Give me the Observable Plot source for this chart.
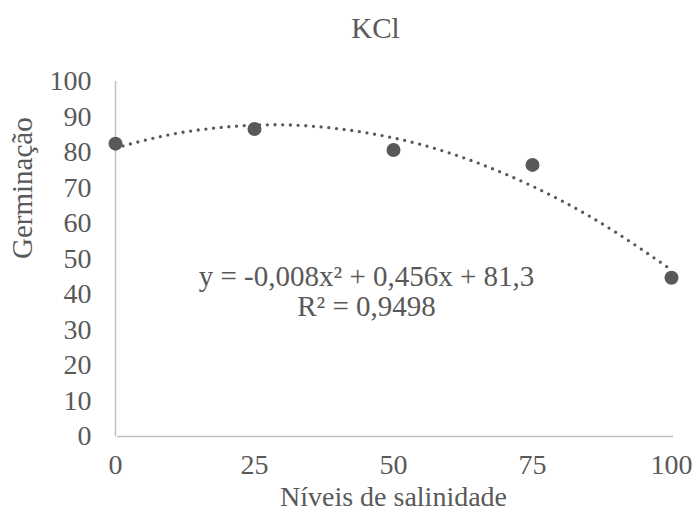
<!DOCTYPE html>
<html>
<head>
<meta charset="utf-8">
<script src="https://cdn.jsdelivr.net/npm/d3@7"></script>
<script src="https://cdn.jsdelivr.net/npm/@observablehq/plot@0.6"></script>
<style>
  html, body { margin: 0; padding: 0; background: #fff; }
</style>
</head>
<body>
<div id="chart"></div>
<script>
// Data
const niveis = [0, 25, 50, 75, 100];
const germinacao = [82.5, 86.6, 80.7, 76.5, 44.7];

// Dotted polynomial trendline
const trendX = [0, 10, 20, 30, 40, 50, 60, 70, 80, 90, 100];
const trendY = [81.3, 85.1, 87.2, 87.8, 86.7, 84.1, 79.9, 74.0, 66.6, 57.5, 46.9];

// Tick labels
const xTicks = [0, 25, 50, 75, 100];
const yTicks = [0, 10, 20, 30, 40, 50, 60, 70, 80, 90, 100];

const titleText = "KCl";
const xLabel = "Níveis de salinidade";
const yLabel = "Germinação";
const equationText = "y = -0,008x² + 0,456x + 81,3\nR² = 0,9498";

const points = niveis.map((x, i) => ({x, y: germinacao[i]}));
const trend = trendX.map((x, i) => ({x, y: trendY[i]}));

const grey = "#595959";
const axisGrey = "#bfbfbf";

const chart = Plot.plot({
  width: 697,
  height: 511,
  marginLeft: 115,
  marginRight: 26,
  marginTop: 81,
  marginBottom: 75,
  style: {fontFamily: "'Liberation Serif', 'Times New Roman', serif", fontSize: "28px", color: grey, background: "#fff"},
  x: {domain: [0, 100]},
  y: {domain: [0, 100]},
  marks: [
    Plot.ruleX([0], {stroke: axisGrey, strokeWidth: 1.5}),
    Plot.ruleY([0], {stroke: axisGrey, strokeWidth: 1.5, dx: 2}),
    Plot.axisY({ticks: yTicks, tickSize: 0, tickPadding: 24, label: null, fill: grey, fontSize: 28}),
    Plot.axisX({ticks: xTicks, tickSize: 0, tickPadding: 18, label: null, fill: grey, fontSize: 28}),
    Plot.line(trend, {x: "x", y: "y", curve: "natural", stroke: grey, strokeWidth: 3.3, strokeDasharray: "0 7.7", strokeLinecap: "round"}),
    Plot.dot(points, {x: "x", y: "y", r: 7, fill: grey, stroke: null}),
    Plot.text([titleText], {frameAnchor: "top", dx: -18, dy: -44, lineAnchor: "bottom", fill: grey, fontSize: 29}),
    Plot.text([xLabel], {frameAnchor: "bottom", dy: 69, lineAnchor: "bottom", fill: grey, fontSize: 28}),
    Plot.text([yLabel], {frameAnchor: "left", dx: -93, rotate: -90, lineAnchor: "middle", fill: grey, fontSize: 29}),
    Plot.text([equationText], {frameAnchor: "middle", dx: -27, dy: 6, lineAnchor: "top", lineHeight: 1.03, fill: grey, fontSize: 29})
  ]
});

document.getElementById("chart").appendChild(chart);
</script>
</body>
</html>
